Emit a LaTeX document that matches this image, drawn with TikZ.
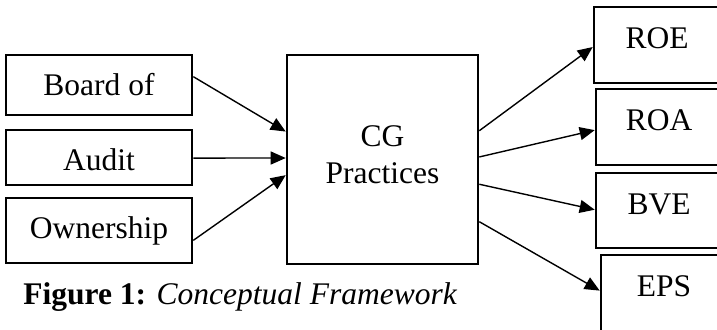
\documentclass[tikz,border=0pt]{standalone}
\usepackage{fontspec}
\setmainfont{Liberation Serif}[BoldFont={Liberation Serif Bold}, ItalicFont={Liberation Serif Italic}]
\usetikzlibrary{calc}
\usetikzlibrary{graphs}
\usetikzlibrary{arrows.meta}
\tikzset{
	box/.style={draw, line width=1.3pt, inner sep=0pt,
			font=\fontsize{15.75}{18.5}\selectfont},
	lbox/.style={box, minimum width=93pt, text height=20.5pt, text depth=#1},
	rbox/.style={box, minimum width=63pt, text height=21pt, text depth=#1},
	mainbox/.style={box, align=center, minimum width=95.5pt, minimum height=104.5pt},
	arr/.style={-{Triangle[length=7.5pt,width=6.5pt]}, line width=0.7pt}
}

\begin{document}
\begin{tikzpicture}[x=0.5pt,y=-0.5pt]
	\useasboundingbox (0,0) rectangle (717,330);
	\graph[no placement]{
		board/"Board of"[lbox=9.5pt, at={(99,85)}];
		audit/"Audit"[lbox=7pt, at={(99,157.5)}];
		owner/"Ownership"[lbox=12pt, at={(99,230.5)}];
		cg/"CG\\Practices\rule[-5pt]{0pt}{0pt}"[mainbox, at={(382.5,159.5)}];
		roe/"ROE"[rbox=17pt, at={(657,45)}];
		roa/"ROA"[rbox=17pt, at={(659,127)}];
		bve/"BVE"[rbox=16.5pt, at={(659,210.5)}];
		eps/"EPS"[rbox=17pt, at={(664,293)}];
	};
	% inputs
	\draw[arr] ($(board.north east)!0.367!(board.south east)$) -- ($(cg.north west)!0.368!(cg.south west)$);
	\draw[arr] ($(audit.north east)!0.51!(audit.south east)$) -- ($(cg.north west)!0.493!(cg.south west)$);
	\draw[arr] ($(owner.north east)!0.646!(owner.south east)$) -- ($(cg.north west)!0.574!(cg.south west)$);
	% outputs
	\draw[arr] ($(cg.north east)!0.364!(cg.south east)$) -- ($(roe.north west)!0.526!(roe.south west)$);
	\draw[arr] ($(cg.north east)!0.488!(cg.south east)$) -- ($(roa.north west)!0.54!(roa.south west)$);
	\draw[arr] ($(cg.north east)!0.617!(cg.south east)$) -- ($(bve.north west)!0.49!(bve.south west)$);
	\draw[arr] ($(cg.north east)!0.794!(cg.south east)$) -- ($(eps.north west)!0.47!(eps.south west)$);
	\node (caption) [anchor=base west, inner sep=0pt, font=\fontsize{15.75}{18.5}\selectfont]
		at (23,305) {\textbf{Figure 1:} \textit{Conceptual Framework}};
\end{tikzpicture}
\end{document}
